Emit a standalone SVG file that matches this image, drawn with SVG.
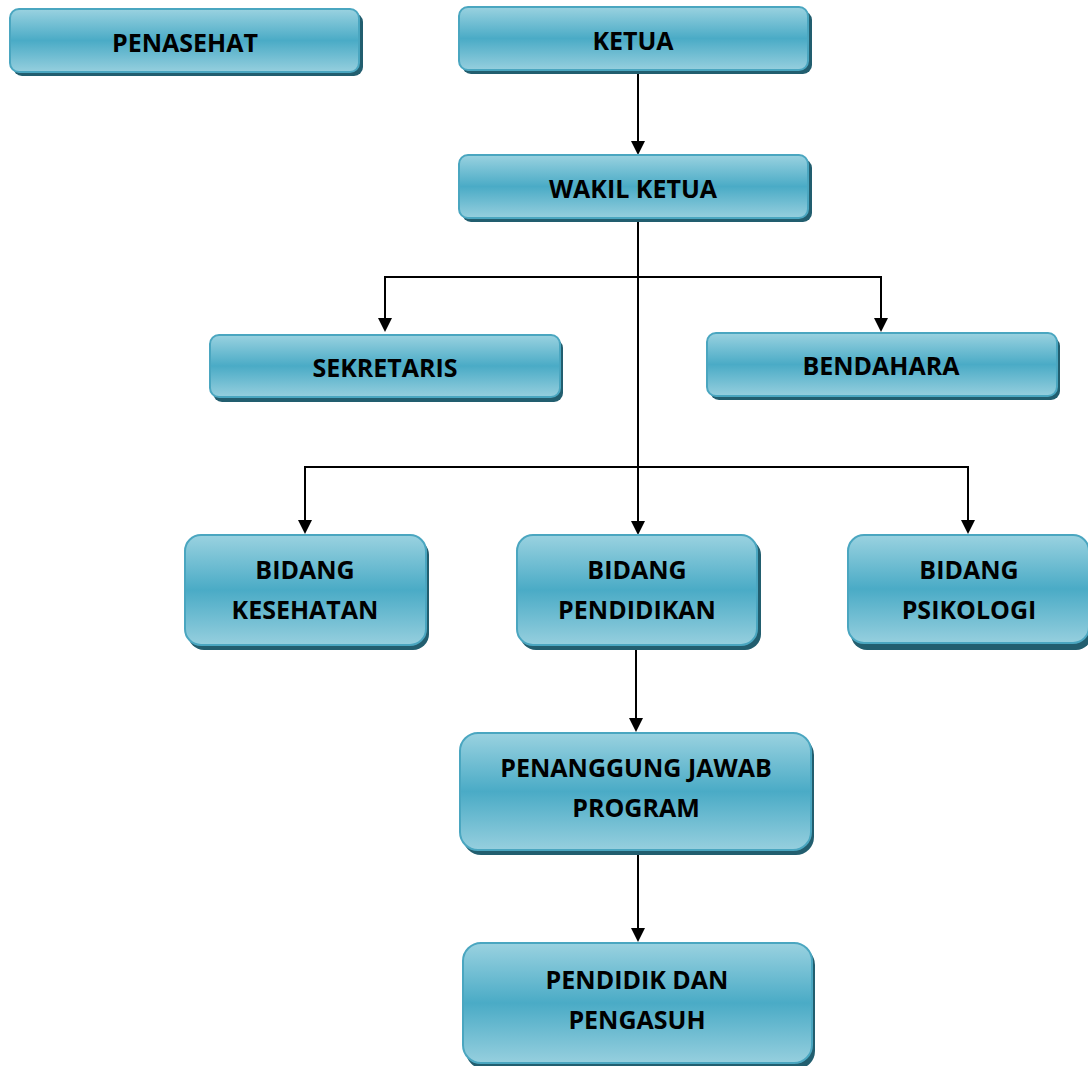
<svg xmlns="http://www.w3.org/2000/svg" width="1088" height="1066" viewBox="0 0 1088 1066">
<defs>
<linearGradient id="g" x1="0" y1="0" x2="0" y2="1">
<stop offset="0" stop-color="#9ad2e0"/>
<stop offset="0.5" stop-color="#4aabc6"/>
<stop offset="1" stop-color="#96cfde"/>
</linearGradient>
</defs>
<style>
.sh{fill:#225e6f}
.bx{fill:url(#g);stroke:#4aa6c0;stroke-width:2}
.t{font-family:"Open Sans","Liberation Sans",sans-serif;font-weight:700;font-size:25px;fill:#000;text-anchor:middle}
.c{stroke:#000;stroke-width:2;fill:none}
</style>
<rect width="1088" height="1066" fill="#fff"/>
<g id="connectors">
<line class="c" x1="638" y1="70" x2="638" y2="142"/>
<path d="M631,141 L645,141 L638,155 Z"/>
<line class="c" x1="638" y1="218" x2="638" y2="522"/>
<path d="M631,521 L645,521 L638,535 Z"/>
<polyline class="c" points="385,319 385,277 881,277 881,319"/>
<path d="M378,318 L392,318 L385,332 Z"/>
<path d="M874,318 L888,318 L881,332 Z"/>
<polyline class="c" points="305,521 305,467 968,467 968,521"/>
<path d="M298,520 L312,520 L305,534 Z"/>
<path d="M961,520 L975,520 L968,534 Z"/>
<line class="c" x1="636" y1="645" x2="636" y2="719"/>
<path d="M629,718 L643,718 L636,732 Z"/>
<line class="c" x1="638" y1="850" x2="638" y2="929"/>
<path d="M631,928 L645,928 L638,942 Z"/>
</g>
<g id="penasehat">
<rect class="sh" x="13" y="13" width="350" height="63" rx="9"/>
<rect class="bx" x="10" y="9" width="349" height="63" rx="9"/>
<text class="t" x="185" y="52">PENASEHAT</text>
</g>
<g id="ketua">
<rect class="sh" x="462" y="11" width="350" height="63" rx="9"/>
<rect class="bx" x="459" y="7" width="349" height="63" rx="9"/>
<text class="t" x="633" y="50">KETUA</text>
</g>
<g id="wakil-ketua">
<rect class="sh" x="462" y="159" width="350" height="63" rx="9"/>
<rect class="bx" x="459" y="155" width="349" height="63" rx="9"/>
<text class="t" x="633" y="198">WAKIL KETUA</text>
</g>
<g id="sekretaris">
<rect class="sh" x="213" y="339" width="350" height="63" rx="9"/>
<rect class="bx" x="210" y="335" width="350" height="62" rx="9"/>
<text class="t" x="385" y="377">SEKRETARIS</text>
</g>
<g id="bendahara">
<rect class="sh" x="710" y="337" width="350" height="63" rx="9"/>
<rect class="bx" x="707" y="333" width="350" height="63" rx="9"/>
<text class="t" x="881" y="375">BENDAHARA</text>
</g>
<g id="bidang-kesehatan">
<rect class="sh" x="188" y="539" width="241" height="111" rx="16"/>
<rect class="bx" x="185" y="535" width="241" height="110" rx="16"/>
<text class="t" x="305" y="579">BIDANG</text>
<text class="t" x="305" y="619">KESEHATAN</text>
</g>
<g id="bidang-pendidikan">
<rect class="sh" x="520" y="539" width="241" height="111" rx="16"/>
<rect class="bx" x="517" y="535" width="240" height="110" rx="16"/>
<text class="t" x="637" y="579">BIDANG</text>
<text class="t" x="637" y="619">PENDIDIKAN</text>
</g>
<g id="bidang-psikologi">
<rect class="sh" x="851" y="539" width="241" height="111" rx="16"/>
<rect class="bx" x="848" y="535" width="241" height="108" rx="16"/>
<text class="t" x="969" y="579">BIDANG</text>
<text class="t" x="969" y="619">PSIKOLOGI</text>
</g>
<g id="penanggung-jawab">
<rect class="sh" x="463" y="737" width="351" height="118" rx="18"/>
<rect class="bx" x="460" y="733" width="351" height="117" rx="18"/>
<text class="t" x="636" y="777">PENANGGUNG JAWAB</text>
<text class="t" x="636" y="817">PROGRAM</text>
</g>
<g id="pendidik-pengasuh">
<rect class="sh" x="466" y="947" width="349" height="122" rx="18"/>
<rect class="bx" x="463" y="943" width="349" height="120" rx="18"/>
<text class="t" x="637" y="989">PENDIDIK DAN</text>
<text class="t" x="637" y="1029">PENGASUH</text>
</g>
</svg>
